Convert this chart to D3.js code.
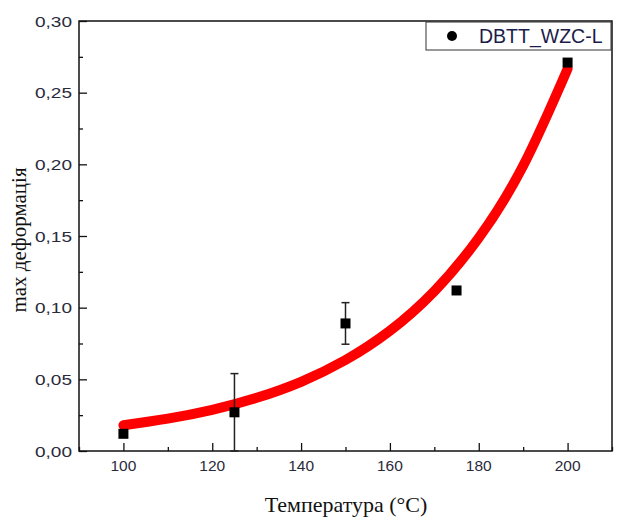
<!DOCTYPE html>
<html>
<head>
    <title></title>
    <script src="https://d3js.org/d3.v7.min.js"></script>
    <style>
        body { margin: 0; background: #fff; }
    </style>
</head>
<body>
    <svg id="chart" width="628" height="521"></svg>
    <script>

    // measured points
    var temps  = [100, 125, 150, 175, 200];
    var deform = [0.012, 0.027, 0.089, 0.112, 0.271];
    var errs   = [0, 0.027, 0.0145, 0, 0];

    // fitted curve
    var fitX = [100, 110, 120, 130, 140, 150, 160, 170, 180, 190, 200];
    var fitY = [0.018, 0.0226, 0.0287, 0.0371, 0.0483, 0.0635, 0.0839, 0.1115, 0.1487, 0.199, 0.2666];

    var xTicks = [100, 120, 140, 160, 180, 200];
    var yTicks = [0, 0.05, 0.10, 0.15, 0.20, 0.25, 0.30];
    var yLabels = ["0,00", "0,05", "0,10", "0,15", "0,20", "0,25", "0,30"];
    var seriesName = "DBTT_WZC-L";

    var L = 79, R = 612, T = 21, B = 451;
    var x = d3.scaleLinear().domain([90, 210]).range([L, R]);
    var y = d3.scaleLinear().domain([0, 0.30]).range([B, T]);

    var svg = d3.select("#chart");

    // axes, ticks pointing inside
    var xAx = svg.append("g").attr("transform", "translate(0," + B + ")")
        .call(d3.axisBottom(x).tickValues(d3.range(90, 211, 10)).tickSize(-4).tickFormat(""));
    xAx.selectAll(".tick line").filter(d => xTicks.indexOf(d) >= 0).attr("y2", -8);
    xAx.select(".domain").remove();

    var yAx = svg.append("g").attr("transform", "translate(" + L + ",0)")
        .call(d3.axisLeft(y).tickValues(d3.range(0, 0.3001, 0.025)).tickSize(-4).tickFormat(""));
    yAx.selectAll(".tick line").filter((d, i) => i % 2 == 0).attr("x2", 8);
    yAx.select(".domain").remove();
    svg.selectAll(".tick line").attr("stroke", "#111").attr("stroke-width", 1.3);

    svg.append("g").selectAll("text").data(xTicks).enter().append("text")
        .attr("x", d => x(d)).attr("y", B + 20)
        .attr("text-anchor", "middle")
        .style("font", "15.5px 'Liberation Sans', Arial").attr("fill", "#2a2a3a")
        .text(d => d);

    svg.append("g").selectAll("text").data(yTicks).enter().append("text")
        .attr("x", L - 7).attr("y", d => y(d) + 5.5)
        .attr("text-anchor", "end")
        .style("font", "15.5px 'Liberation Sans', Arial").attr("fill", "#2a2a3a")
        .attr("textLength", 37).attr("lengthAdjust", "spacingAndGlyphs")
        .text((d, i) => yLabels[i]);

    // frame
    svg.append("rect").attr("x", L).attr("y", T).attr("width", R - L).attr("height", B - T)
        .attr("fill", "none").attr("stroke", "#111").attr("stroke-width", 1.5);

    // fit curve
    var pts = fitX.map((d, i) => [x(d), y(fitY[i])]);
    svg.append("path").attr("d", d3.line().curve(d3.curveNatural)(pts))
        .attr("fill", "none").attr("stroke", "red").attr("stroke-width", 10)
        .attr("stroke-linecap", "round");

    // error bars
    var eb = svg.append("g").attr("stroke", "#222").attr("stroke-width", 1.5);
    temps.forEach(function(t, i) {
        if (!errs[i]) return;
        var cx = x(t), y1 = y(deform[i] - errs[i]), y2 = y(deform[i] + errs[i]);
        eb.append("line").attr("x1", cx).attr("x2", cx).attr("y1", y1).attr("y2", y2);
        eb.append("line").attr("x1", cx - 4).attr("x2", cx + 4).attr("y1", y1).attr("y2", y1);
        eb.append("line").attr("x1", cx - 4).attr("x2", cx + 4).attr("y1", y2).attr("y2", y2);
    });

    // points
    svg.append("g").selectAll("rect").data(temps).enter().append("rect")
        .attr("x", d => x(d) - 5).attr("y", (d, i) => y(deform[i]) - 5)
        .attr("width", 10).attr("height", 10).attr("fill", "#000");

    // legend
    svg.append("rect").attr("x", 426).attr("y", 22).attr("width", 185).attr("height", 28)
        .attr("fill", "#fff").attr("stroke", "#333").attr("stroke-width", 1);
    svg.append("circle").attr("cx", 452).attr("cy", 36).attr("r", 5).attr("fill", "#000");
    svg.append("text").attr("x", 479).attr("y", 43)
        .style("font", "19.5px 'Liberation Sans', Arial").attr("fill", "#1c1c4a")
        .text(seriesName);

    // titles
    svg.append("text").attr("x", 346).attr("y", 512).attr("text-anchor", "middle")
        .style("font", "22px 'Liberation Serif', 'Times New Roman'").attr("fill", "#111")
        .text("Температура (°C)");
    svg.append("text").attr("transform", "translate(26,240) rotate(-90)").attr("text-anchor", "middle")
        .style("font", "21px 'Liberation Serif', 'Times New Roman'").attr("fill", "#111")
        .text("max деформація");

    </script>
</body></html>
